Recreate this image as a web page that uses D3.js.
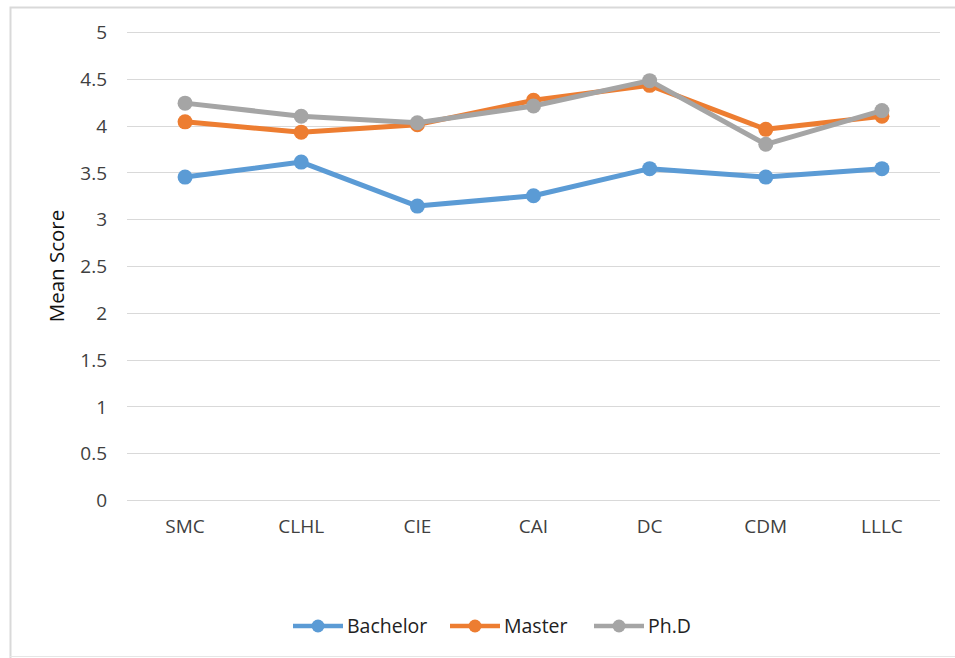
<!DOCTYPE html>
<html>
<head>
<meta charset="utf-8">
<script src="https://cdn.jsdelivr.net/npm/d3@7"></script>
<style>
  html, body { margin: 0; padding: 0; background: #fff; }
  svg { display: block; }
  text { font-family: "Open Sans", "Noto Sans", sans-serif; fill: #404040; }
</style>
</head>
<body>
<svg id="chart" width="955" height="658"></svg>
<script>
const categories = ["SMC", "CLHL", "CIE", "CAI", "DC", "CDM", "LLLC"];
const bachelor = [3.45, 3.61, 3.14, 3.25, 3.54, 3.45, 3.54];
const master   = [4.04, 3.93, 4.01, 4.27, 4.43, 3.96, 4.10];
const phd      = [4.24, 4.10, 4.03, 4.21, 4.48, 3.80, 4.16];
const seriesNames = ["Bachelor", "Master", "Ph.D"];
const yTicks = [0, 0.5, 1, 1.5, 2, 2.5, 3, 3.5, 4, 4.5, 5];

const colors = ["#5B9BD5", "#ED7D31", "#A5A5A5"];
const series = [bachelor, master, phd].map((vals, i) => ({ name: seriesNames[i], values: vals, color: colors[i] }));

const svg = d3.select("#chart");

// outer border
svg.append("path")
  .attr("d", "M10.5,658 L10.5,7.5 L955,7.5")
  .attr("fill", "none").attr("stroke", "#d9d9d9").attr("stroke-width", 2);
svg.append("line").attr("x1", 10).attr("x2", 955).attr("y1", 656.5).attr("y2", 656.5)
  .attr("stroke", "#e6e6e6").attr("stroke-width", 1);

const plot = { left: 127, right: 940, top: 32, bottom: 500 };

const x = d3.scaleBand().domain(categories).range([plot.left, plot.right]).padding(0);
const y = d3.scaleLinear().domain([0, 5]).range([plot.bottom, plot.top]);

// gridlines
svg.append("g").selectAll("line").data(yTicks).join("line")
  .attr("x1", plot.left).attr("x2", plot.right)
  .attr("y1", d => Math.round(y(d)) + 0.5).attr("y2", d => Math.round(y(d)) + 0.5)
  .attr("stroke", "#d9d9d9").attr("stroke-width", 1);

// y axis labels
const yAxis = d3.axisLeft(y).tickValues(yTicks).tickSize(0).tickPadding(0).tickFormat(d3.format("~g"));
const yg = svg.append("g").attr("transform", `translate(107,0)`).call(yAxis);
yg.select(".domain").remove();
yg.selectAll("text").style("font-size", "19px").style("font-family", "'Open Sans', sans-serif").attr("fill", "#404040").attr("dy", "0.35em");

// x axis labels
const xAxis = d3.axisBottom(x).tickSize(0).tickPadding(0);
const xg = svg.append("g").attr("transform", `translate(0,${plot.bottom + 19})`).call(xAxis);
xg.select(".domain").remove();
xg.selectAll("text").style("font-size", "19px").style("font-family", "'Open Sans', sans-serif").attr("fill", "#404040").attr("dy", "0.71em");

// y title
svg.append("text")
  .attr("transform", "translate(64,266) rotate(-90)")
  .attr("text-anchor", "middle")
  .style("font-size", "20.5px")
  .attr("fill", "#000")
  .style("fill", "#111")
  .text("Mean Score");

const cx = c => x(c) + x.bandwidth() / 2;
const line = d3.line().x((d, i) => cx(categories[i])).y(d => y(d));

const sg = svg.append("g").selectAll("g").data(series).join("g");
sg.append("path")
  .attr("d", d => line(d.values))
  .attr("fill", "none")
  .attr("stroke", d => d.color)
  .attr("stroke-width", 5)
  .attr("stroke-linejoin", "round");
sg.each(function(s) {
  d3.select(this).selectAll("circle").data(s.values).join("circle")
    .attr("cx", (d, i) => cx(categories[i]))
    .attr("cy", d => y(d))
    .attr("r", 7.5)
    .attr("fill", s.color);
});

// legend
const legendX = [293, 450, 594];
const legendY = 626;
const lg = svg.append("g").selectAll("g").data(series).join("g")
  .attr("transform", (d, i) => `translate(${legendX[i]},${legendY})`);
lg.append("line").attr("x1", 0).attr("x2", 50).attr("y1", 0).attr("y2", 0)
  .attr("stroke", d => d.color).attr("stroke-width", 4.5);
lg.append("circle").attr("cx", 25).attr("cy", 0).attr("r", 6.5).attr("fill", d => d.color);
lg.append("text").attr("x", 54).attr("y", 0).attr("dy", "0.35em")
  .style("font-size", "19.5px").style("fill", "#222").text(d => d.name);
</script>
</body>
</html>
